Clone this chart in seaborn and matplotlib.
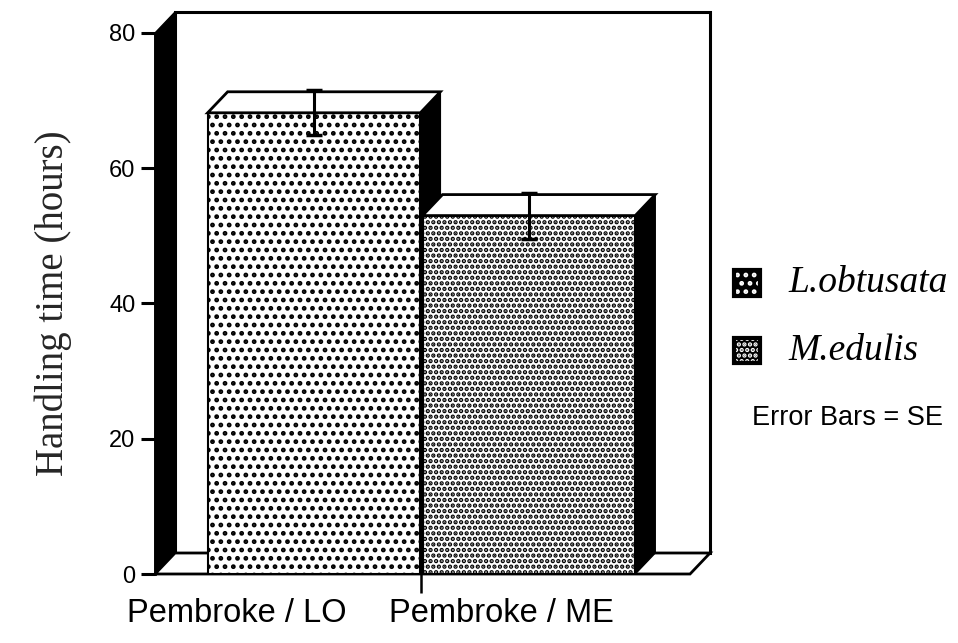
import numpy as np
import pandas as pd
import matplotlib.pyplot as plt
import seaborn as sns
from matplotlib.patches import Polygon, Rectangle

# data
sites = ["Pembroke / LO", "Pembroke / ME"]
species = ["L.obtusata", "M.edulis"]
hours = [68.2, 53.0]
se = [3.3, 3.4]
hatches = ["..", "..."]
yticks = [0, 20, 40, 60, 80]

df = pd.DataFrame({"site": sites, "hours": hours})

sns.set_theme(style="white")
plt.rcParams["hatch.linewidth"] = 2.2
plt.rcParams["font.family"] = ["Liberation Sans", "DejaVu Sans"]
plt.rcParams["text.color"] = "black"
plt.rcParams["ytick.color"] = "black"
plt.rcParams["xtick.color"] = "black"

fig = plt.figure(figsize=(9.58, 6.43), dpi=100)
ax = fig.add_axes([0.1618, 0.1073, 0.5585, 0.8414])

sns.barplot(data=df, x="site", y="hours", hue="site", palette=["white", "white"],
            edgecolor="black", linewidth=1.5, width=0.99, errorbar=None,
            legend=False, ax=ax)

ax.set_xlim(-0.74, 1.75)
ax.set_ylim(0, 80)

# depth of the fake 3D box, in data units (about 20 px right, 21 px up)
x0, x1 = ax.get_xlim()
y0, y1 = ax.get_ylim()
bb = ax.get_position()
px_x = bb.width * fig.get_figwidth() * fig.dpi / (x1 - x0)
px_y = bb.height * fig.get_figheight() * fig.dpi / (y1 - y0)
dx = 20 / px_x
dy = 21 / px_y

# back wall, left wall and floor
ax.add_patch(Rectangle((x0 + dx, y0 + dy), x1 - x0, y1 - y0, facecolor="white",
                       edgecolor="black", linewidth=2.2, clip_on=False, zorder=0.5))
ax.add_patch(Polygon([(x0, y0), (x0, y1), (x0 + dx, y1 + dy), (x0 + dx, y0 + dy)],
                     closed=True, facecolor="black", edgecolor="black",
                     clip_on=False, zorder=0.6))
ax.add_patch(Polygon([(x0, y0), (x1, y0), (x1 + dx, y0 + dy), (x0 + dx, y0 + dy)],
                     closed=True, facecolor="white", edgecolor="black", linewidth=2,
                     clip_on=False, zorder=0.7))

for i, p in enumerate(ax.patches[:len(sites)]):
    p.set_hatch(hatches[i])
    p.set_zorder(3 + i)
    bx, bw, bh = p.get_x(), p.get_width(), p.get_height()
    side = Polygon([(bx + bw, 0), (bx + bw, bh), (bx + bw + dx, bh + dy), (bx + bw + dx, dy)],
                   closed=True, facecolor="black", edgecolor="black", clip_on=False,
                   zorder=3 + i + 0.1)
    top = Polygon([(bx, bh), (bx + bw, bh), (bx + bw + dx, bh + dy), (bx + dx, bh + dy)],
                  closed=True, facecolor="white", edgecolor="black", linewidth=2,
                  clip_on=False, zorder=3 + i + 0.2)
    ax.add_patch(side)
    ax.add_patch(top)

ax.errorbar(x=np.arange(len(sites)), y=hours, yerr=se, fmt="none", ecolor="black",
            elinewidth=2.2, capsize=6, capthick=2.5, zorder=10, clip_on=False)

# axes styling
for s in ["top", "right", "bottom"]:
    ax.spines[s].set_visible(False)
ax.spines["left"].set_linewidth(2)
ax.spines["left"].set_color("black")
ax.axhline(0, color="black", linewidth=2.2, zorder=2)

ax.set_yticks(yticks)
ax.set_yticklabels([str(t) for t in yticks], fontsize=17)
ax.tick_params(axis="y", direction="out", length=10, width=2.2, pad=4, left=True)
ax.set_xticks([0.5])
ax.set_xticklabels([])
ax.tick_params(axis="x", direction="out", length=14, width=1.8, bottom=True)
ax.set_xlabel("")
ax.set_ylabel("Handling time (hours)", family=["Liberation Serif"], fontsize=28,
              labelpad=27)

# category labels sit left of the bar centres in the original
label_x = [-0.36, 0.87]
for lx, name in zip(label_x, sites):
    ax.text(lx, -0.045, name, transform=ax.get_xaxis_transform(), ha="center",
            va="top", fontsize=23.5)

# legend drawn by hand to the right of the box: black squares with light dots
leg_y = [0.56, 0.455]
for ly, name, h in zip(leg_y, species, hatches):
    fig.patches.append(Rectangle((0.766, ly - 0.02), 0.027, 0.04, facecolor="black",
                                 edgecolor="white", linewidth=0, hatch=h,
                                 transform=fig.transFigure))
    fig.patches.append(Rectangle((0.766, ly - 0.02), 0.027, 0.04, facecolor="none",
                                 edgecolor="black", linewidth=3,
                                 transform=fig.transFigure))
    fig.text(0.823, ly, name, family=["Liberation Serif"], style="italic",
             fontsize=27, va="center", ha="left")
fig.text(0.785, 0.35, "Error Bars = SE", fontsize=19.5, va="center", ha="left")

fig.savefig("out.png", dpi=100)
